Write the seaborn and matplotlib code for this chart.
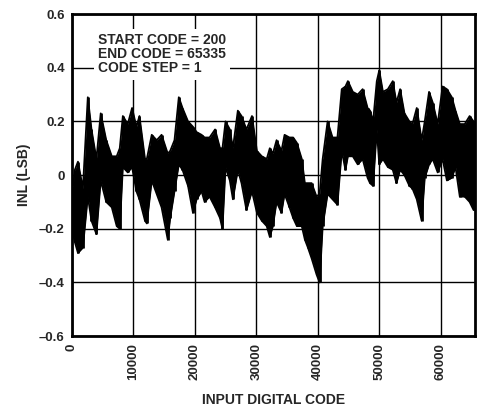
import numpy as np
import pandas as pd
import seaborn as sns
import matplotlib.pyplot as plt

# INL envelope: code, upper edge, lower edge (LSB)
codes = [200, 500, 1000, 1800, 2600, 3200, 4000, 4700, 5600, 6500, 7300, 7800,
         8300, 9100, 9800, 10500, 11000, 11900, 12200, 13000, 13800, 14600, 15600,
         16000, 16700, 17400, 18000, 18900, 19700, 20300, 21100, 21600, 22400,
         23300, 24100, 24500, 25000, 25700, 26200, 27000, 27600, 28400, 29300,
         30100, 30900, 31700, 32200, 32700, 33300, 34100, 34600, 35400, 36000,
         36600, 37400, 37900, 38400, 39000, 39800, 40300, 40800, 41600, 42400,
         43200, 43900, 44500, 44900, 45700, 46500, 47300, 48100, 48500, 49000,
         49600, 50000, 50600, 51400, 52200, 52800, 53400, 54100, 54900, 55400,
         56100, 56900, 57400, 58100, 58700, 59500, 60300, 61000, 61800, 62400,
         63100, 63900, 64700, 65335]
inl_high = [-0.04, 0.02, 0.05, -0.05, 0.29, 0.17, 0.06, 0.23, 0.13, 0.07, 0.07, 0.10,
            0.22, 0.19, 0.25, 0.18, 0.22, 0.06, 0.06, 0.15, 0.13, 0.15, 0.08,
            0.09, 0.13, 0.29, 0.25, 0.20, 0.18, 0.16, 0.15, 0.14, 0.14,
            0.17, 0.10, 0.10, 0.20, 0.17, 0.10, 0.24, 0.22, 0.17, 0.22,
            0.09, 0.07, 0.06, 0.10, 0.08, 0.13, 0.09, 0.15, 0.14, 0.14,
            0.12, 0.06, -0.03, -0.03, -0.03, -0.08, -0.07, 0.06, 0.20, 0.14,
            0.14, 0.32, 0.33, 0.35, 0.31, 0.30, 0.32, 0.25, 0.24, 0.20,
            0.35, 0.39, 0.31, 0.32, 0.35, 0.27, 0.32, 0.23, 0.20, 0.19,
            0.25, 0.13, 0.20, 0.31, 0.27, 0.19, 0.33, 0.32, 0.29, 0.24,
            0.19, 0.19, 0.22, 0.20]
inl_low = [-0.22, -0.25, -0.29, -0.27, -0.08, -0.17, -0.22, -0.02, -0.10, -0.12, -0.19, -0.20,
           0.03, 0.01, 0.03, -0.06, -0.09, -0.17, -0.18, -0.02, -0.07, -0.12, -0.24,
           -0.16, -0.06, 0.04, 0.02, -0.04, -0.14, -0.09, -0.06, -0.10, -0.08,
           -0.12, -0.16, -0.20, 0.03, -0.02, -0.09, 0.02, -0.03, -0.13, -0.06,
           -0.14, -0.17, -0.19, -0.23, -0.19, -0.10, -0.14, -0.07, -0.12, -0.16,
           -0.19, -0.19, -0.24, -0.27, -0.31, -0.37, -0.40, -0.19, -0.07, -0.09,
           -0.11, 0.09, 0.02, 0.07, 0.07, 0.04, 0.06, -0.01, -0.03, -0.04,
           0.17, 0.04, 0.06, 0.03, 0.02, -0.03, 0.02, 0.00, -0.04, -0.05,
           -0.09, -0.17, -0.01, 0.04, 0.06, 0.01, 0.06, -0.02, -0.01, 0.03,
           -0.08, -0.08, -0.10, -0.13]

x_ticks = [0, 10000, 20000, 30000, 40000, 50000, 60000]
y_ticks = [-0.6, -0.4, -0.2, 0, 0.2, 0.4, 0.6]
y_labels = ['\u20130.6', '\u20130.4', '\u20130.2', '0', '0.2', '0.4', '0.6']

df = pd.DataFrame({'code': codes, 'high': inl_high, 'low': inl_low})

sns.set_style('white')
plt.rcParams['font.family'] = ['Liberation Sans', 'DejaVu Sans']

fig = plt.figure(figsize=(4.82, 4.12), dpi=100)
ax = fig.add_axes([0.149, 0.184, 0.836, 0.782])

# solid band between the two edges, plus the edges and a vertical stroke per sample
ax.fill_between(df['code'], df['low'], df['high'], color='black', lw=0)
sns.lineplot(data=df, x='code', y='high', color='black', lw=1.3, ax=ax)
sns.lineplot(data=df, x='code', y='low', color='black', lw=1.3, ax=ax)
ax.vlines(df['code'], df['low'], df['high'], color='black', lw=2)

ax.set_xlim(0, 65535)
ax.set_ylim(-0.6, 0.6)
ax.set_xticks(x_ticks)
ax.set_xticklabels([str(t) for t in x_ticks], rotation=90, fontsize=9.5, fontweight='bold')
ax.set_yticks(y_ticks)
ax.set_yticklabels(y_labels, fontsize=9.5, fontweight='bold')
ax.tick_params(length=0, pad=5)
ax.grid(True, color='black', lw=1)
ax.set_axisbelow(True)
for s in ax.spines.values():
    s.set_color('black')
    s.set_linewidth(2)

ax.set_xlabel('INPUT DIGITAL CODE', fontsize=10, fontweight='bold', labelpad=9)
ax.set_ylabel('INL (LSB)', fontsize=10, fontweight='bold', labelpad=6)

ax.text(0.065, 0.94, 'START CODE = 200\nEND CODE = 65335\nCODE STEP = 1',
        transform=ax.transAxes, ha='left', va='top', fontsize=10,
        fontweight='bold', linespacing=1.0, zorder=5,
        bbox=dict(facecolor='white', edgecolor='none', pad=3))

fig.savefig('out.png', dpi=100)
